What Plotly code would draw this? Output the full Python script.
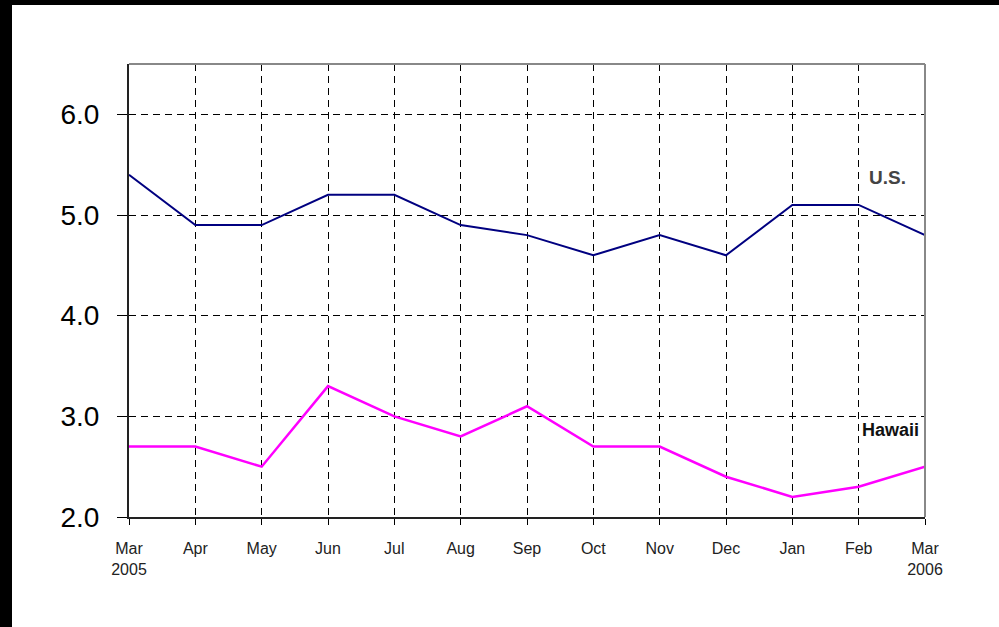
import plotly.graph_objects as go

months = ["Mar<br>2005", "Apr", "May", "Jun", "Jul", "Aug", "Sep", "Oct", "Nov", "Dec", "Jan", "Feb", "Mar<br>2006"]
us = [5.4, 4.9, 4.9, 5.2, 5.2, 4.9, 4.8, 4.6, 4.8, 4.6, 5.1, 5.1, 4.8]
hawaii = [2.7, 2.7, 2.5, 3.3, 3.0, 2.8, 3.1, 2.7, 2.7, 2.4, 2.2, 2.3, 2.5]
yticks = [2.0, 3.0, 4.0, 5.0, 6.0]
xpos = list(range(len(months)))

fig = go.Figure()
fig.add_trace(go.Scatter(x=xpos, y=us, mode="lines", line=dict(color="#000080", width=2), name="U.S."))
fig.add_trace(go.Scatter(x=xpos, y=hawaii, mode="lines", line=dict(color="#FF00FF", width=2.5), name="Hawaii"))

L, R, T, B = 129, 74, 64, 110
W, H = 999, 627
pw, ph = W - L - R, H - T - B

def px(xp):
    return (xp - L) / pw

def py(yp):
    return (H - B - yp) / ph

shapes = [
    dict(type="line", xref="paper", yref="paper", x0=0, x1=1, y0=1, y1=1, line=dict(color="#888888", width=2)),
    dict(type="line", xref="paper", yref="paper", x0=1, x1=1, y0=0, y1=1, line=dict(color="#888888", width=2)),
    dict(type="rect", xref="paper", yref="paper", x0=px(-2), x1=px(12), y0=py(H + 5), y1=py(-5), fillcolor="black", line=dict(width=0), layer="above"),
    dict(type="rect", xref="paper", yref="paper", x0=px(-2), x1=px(W + 5), y0=py(5), y1=py(-5), fillcolor="black", line=dict(width=0), layer="above"),
]

fig.update_layout(
    width=W, height=H,
    margin=dict(l=L, r=R, t=T, b=B),
    paper_bgcolor="white", plot_bgcolor="white",
    showlegend=False,
    shapes=shapes,
    xaxis=dict(
        range=[0, 12], tickvals=xpos, ticktext=months,
        showgrid=True, gridcolor="black", gridwidth=1, griddash="7px,5px",
        showline=True, linecolor="#222222", linewidth=2,
        ticks="outside", ticklen=6, tickcolor="black",
        tickfont=dict(family="Liberation Sans Narrow, Arial Narrow, Liberation Sans", size=16, color="#222222"),
        ticklabelstandoff=10,
        zeroline=False,
    ),
    yaxis=dict(
        range=[2.0, 6.5], tickvals=yticks, ticktext=[f"{v:.1f}" for v in yticks],
        showgrid=True, gridcolor="black", gridwidth=1, griddash="7px,5px",
        showline=True, linecolor="#222222", linewidth=2,
        ticks="outside", ticklen=10, tickcolor="black",
        tickfont=dict(family="Liberation Sans, Arial", size=28, color="black"),
        ticklabelstandoff=12,
        zeroline=False,
    ),
    annotations=[
        dict(x=11.44, y=5.37, xref="x", yref="y", text="<b>U.S.</b>", showarrow=False,
             font=dict(family="Liberation Sans, Arial", size=19, color="#444444")),
        dict(x=11.48, y=2.86, xref="x", yref="y", text="<b>Hawaii</b>", showarrow=False,
             font=dict(family="Liberation Sans Narrow, Liberation Sans, Arial", size=18, color="#111111")),
    ],
)

fig.write_html("out.html", config={"displayModeBar": False},
               post_script="document.body.style.margin='0';document.body.style.overflow='hidden';")
